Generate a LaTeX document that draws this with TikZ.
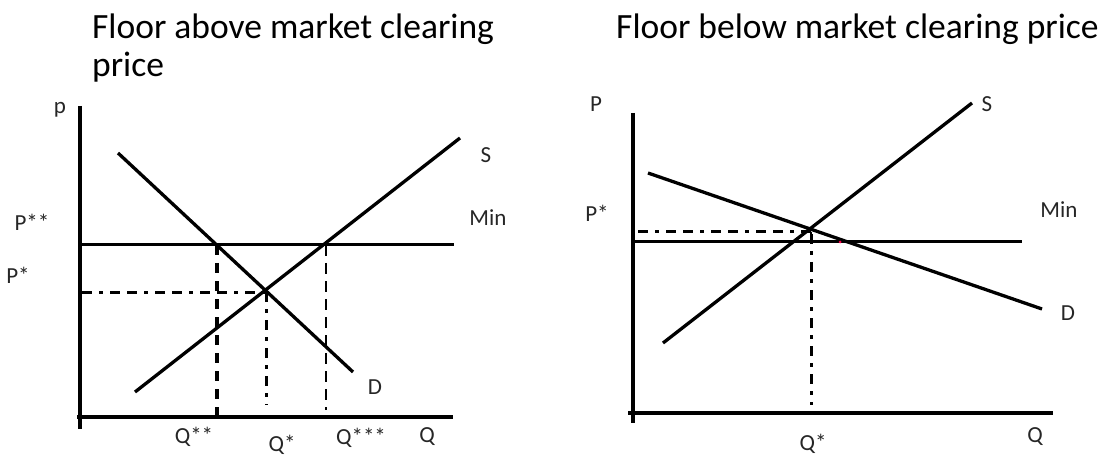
\documentclass[tikz,border=0pt]{standalone}
\usepackage{fontspec}
\setmainfont{Carlito}
\begin{document}
\begin{tikzpicture}[x=1pt,y=-1pt,
  axis/.style={line width=3.6pt},
  curve/.style={line width=3.3pt},
  minline/.style={line width=3.0pt},
  thickdash/.style={line width=3.2pt,dash pattern=on 10pt off 8pt},
  hdash/.style={line width=3.0pt,dash pattern=on 10pt off 7pt on 4pt off 7pt on 10pt off 7pt},
  dashdot/.style={line width=3.0pt,dash pattern=on 10pt off 7pt on 4pt off 7pt},
  thindash/.style={line width=1.7pt,dash pattern=on 11pt off 7pt},
  lbl/.style={font=\fontsize{23}{26}\selectfont,text=black!85,inner sep=0pt},
  ttl/.style={font=\fontsize{35.5}{42}\selectfont,inner sep=0pt,anchor=base west,align=left}]
\useasboundingbox (0,0) rectangle (1098,457);
% titles
\node[ttl] (t1) at (92,39) {Floor above market clearing};
\node[ttl] (t1b) at (92,77) {price};
\node[ttl] (t2) at (616,39) {Floor below market clearing price};

% ---------------- left panel ----------------
\coordinate (Lyt) at (80,106);
\coordinate (Lyb) at (80,429);
\coordinate (Lxl) at (77,417);
\coordinate (Lxr) at (453,417);
\coordinate (Lm1) at (80,245);
\coordinate (Lm2) at (454,245);
\coordinate (LS1) at (135,392);
\coordinate (LS2) at (460,138);
\coordinate (LD1) at (118,153);
\coordinate (LD2) at (353,372);
\coordinate (Le) at (266,292);
\coordinate (LeP) at (82,292);
\coordinate (LeQ) at (266,405);
\coordinate (Lqa) at (217,245);
\coordinate (Lqab) at (217,417);
\coordinate (Lqc) at (326,245);
\coordinate (Lqcb) at (326,410);

\draw[axis] (Lyt) -- (Lyb);
\draw[axis] (Lxl) -- (Lxr);
\draw[minline] (Lm1) -- (Lm2);
\draw[curve] (LS1) -- (LS2);
\draw[curve] (LD1) -- (LD2);
\draw[hdash] (LeP) -- (Le);
\draw[thickdash] (Lqa) -- (Lqab);
\draw[dashdot] (Le) -- (LeQ);
\draw[thindash] (Lqc) -- (Lqcb);

\node[lbl] (Lp) at (60,110) {p};
\node[lbl] (Lpss) at (32,222) {P**};
\node[lbl] (Lps) at (18,275) {P*};
\node[lbl] (LSl) at (486,155) {S};
\node[lbl] (LMin) at (488,218) {Min};
\node[lbl] (LDl) at (375,387) {D};
\node[lbl] (Lqss) at (194,437) {Q**};
\node[lbl] (Lqs) at (282,445) {Q*};
\node[lbl] (Lqsss) at (361,438) {Q***};
\node[lbl] (LQ) at (427,437) {Q};

% ---------------- right panel ----------------
\coordinate (Ryt) at (633,113);
\coordinate (Ryb) at (633,423);
\coordinate (Rxl) at (628,413);
\coordinate (Rxr) at (1053,413);
\coordinate (Rm1) at (633,242);
\coordinate (Rm2) at (1022,242);
\coordinate (RS1) at (663,343);
\coordinate (RS2) at (972,103);
\coordinate (RD1) at (648,173);
\coordinate (RD2) at (1042,309);
\coordinate (Re) at (811,232);
\coordinate (ReP) at (638,232);
\coordinate (Rt) at (811,242);
\coordinate (ReQ) at (811,405);
\coordinate (Rdot) at (840,242);

\draw[axis] (Ryt) -- (Ryb);
\draw[axis] (Rxl) -- (Rxr);
\draw[minline] (Rm1) -- (Rm2);
\draw[curve] (RS1) -- (RS2);
\draw[curve] (RD1) -- (RD2);
\draw[hdash] (ReP) -- (Re);
\draw[line width=1.8pt] (Re) -- (Rt);
\draw[dashdot] ([yshift=8pt]Rt) -- (ReQ);
\fill[red!70!magenta] (Rdot) circle (1.5pt);

\node[lbl] (RP) at (596,104) {P};
\node[lbl] (RPs) at (597,213) {P*};
\node[lbl] (RSl) at (987,104) {S};
\node[lbl] (RMin) at (1059,210) {Min};
\node[lbl] (RDl) at (1068,313) {D};
\node[lbl] (Rqs) at (813,444) {Q*};
\node[lbl] (RQ) at (1035,437) {Q};
\end{tikzpicture}
\end{document}
